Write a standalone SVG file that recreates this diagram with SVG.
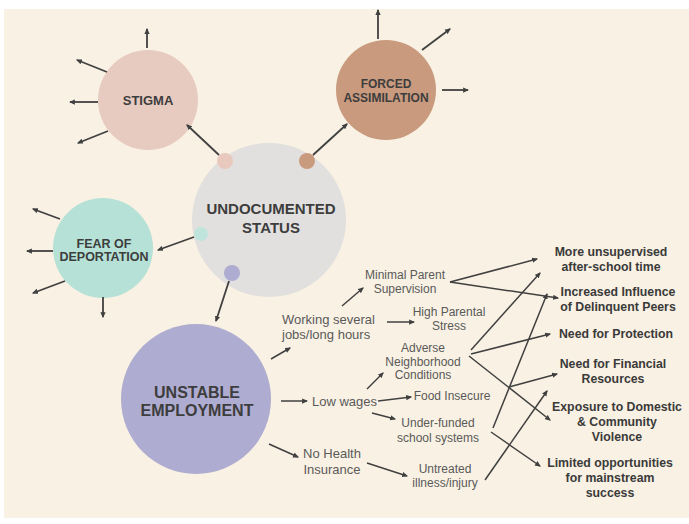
<svg xmlns="http://www.w3.org/2000/svg" width="689" height="524" viewBox="0 0 689 524">
  <style>
    .lbl { font-family: "Liberation Sans", Arial, sans-serif; font-weight: bold; fill: #3d3d3d; text-anchor: middle; }
    .mid { font-family: "Liberation Sans", Arial, sans-serif; fill: #5a5a5a; text-anchor: middle; font-size: 12px; }
    .mid13 { font-size: 13px; }
    .start { text-anchor: start; }
    .out { font-family: "Liberation Sans", Arial, sans-serif; font-weight: bold; fill: #3a3a3a; text-anchor: middle; font-size: 12.3px; }
    .arr { stroke: #404040; stroke-width: 1.8; fill: none; marker-end: url(#ah); }
    .thin { stroke: #404040; stroke-width: 1.5; fill: none; marker-end: url(#ah); }
  </style>
  <defs>
    <marker id="ah" viewBox="0 0 8 8" refX="6.5" refY="4" markerWidth="6" markerHeight="6" markerUnits="userSpaceOnUse" orient="auto">
      <path d="M0,0.5 L8,4 L0,7.5 z" fill="#404040"/>
    </marker>
  </defs>

  <rect x="0" y="0" width="689" height="524" fill="#ffffff"/>
  <rect x="4" y="9" width="685" height="509" fill="#f9f1e3"/>

  <!-- nodes -->
  <g id="stigma">
    <circle cx="148" cy="100" r="50" fill="#e8cbc0"/>
    <text class="lbl" x="148" y="104.5" font-size="13">STIGMA</text>
  </g>
  <g id="forced-assimilation">
    <circle cx="386" cy="90" r="50" fill="#c99a7e"/>
    <text class="lbl" x="386" y="87.5" font-size="12">FORCED</text>
    <text class="lbl" x="386" y="101.5" font-size="12">ASSIMILATION</text>
  </g>
  <g id="fear-of-deportation">
    <circle cx="103" cy="248" r="50" fill="#b5e1d7"/>
    <text class="lbl" x="104" y="247.5" font-size="12.5">FEAR OF</text>
    <text class="lbl" x="104" y="260.5" font-size="12.5">DEPORTATION</text>
  </g>
  <g id="undocumented-status">
    <circle cx="269" cy="220" r="77" fill="#e1e0df"/>
    <circle cx="225" cy="161" r="8" fill="#e9c9bd"/>
    <circle cx="307" cy="161" r="8" fill="#c99a7e"/>
    <circle cx="201" cy="234" r="7" fill="#bfe4db"/>
    <circle cx="232" cy="273" r="8" fill="#aeacd0"/>
    <text class="lbl" x="271" y="213.5" font-size="15">UNDOCUMENTED</text>
    <text class="lbl" x="271" y="232.5" font-size="15">STATUS</text>
  </g>
  <g id="unstable-employment">
    <circle cx="196" cy="399" r="75" fill="#aeacd0"/>
    <text class="lbl" x="197" y="398" font-size="16">UNSTABLE</text>
    <text class="lbl" x="197" y="416" font-size="16">EMPLOYMENT</text>
  </g>

  <!-- second level factors -->
  <g id="working-several-jobs">
    <text class="mid mid13 start" x="282" y="324">Working several</text>
    <text class="mid mid13 start" x="282" y="339">jobs/long hours</text>
  </g>
  <g id="low-wages">
    <text class="mid mid13 start" x="312" y="406">Low wages</text>
  </g>
  <g id="no-health-insurance">
    <text class="mid mid13" x="332" y="458">No Health</text>
    <text class="mid mid13" x="332" y="474">Insurance</text>
  </g>
  <g id="minimal-parent-supervision">
    <text class="mid" x="405" y="279">Minimal Parent</text>
    <text class="mid" x="405" y="293">Supervision</text>
  </g>
  <g id="high-parental-stress">
    <text class="mid" x="449" y="316" font-size="11.7">High Parental</text>
    <text class="mid" x="449" y="329.5" font-size="11.7">Stress</text>
  </g>
  <g id="adverse-neighborhood">
    <text class="mid" x="423" y="352">Adverse</text>
    <text class="mid" x="423" y="365.5">Neighborhood</text>
    <text class="mid" x="423" y="379">Conditions</text>
  </g>
  <g id="food-insecure">
    <text class="mid" x="452" y="400">Food Insecure</text>
  </g>
  <g id="under-funded-schools">
    <text class="mid" x="438" y="427">Under-funded</text>
    <text class="mid" x="438" y="442">school systems</text>
  </g>
  <g id="untreated-illness">
    <text class="mid" x="445" y="473">Untreated</text>
    <text class="mid" x="445" y="487">illness/injury</text>
  </g>

  <!-- outcomes -->
  <g id="more-unsupervised">
    <text class="out" x="611" y="255.5">More unsupervised</text>
    <text class="out" x="611" y="270.5">after-school time</text>
  </g>
  <g id="delinquent-peers">
    <text class="out" x="618" y="295.5">Increased Influence</text>
    <text class="out" x="618" y="310.5">of Delinquent Peers</text>
  </g>
  <g id="need-protection">
    <text class="out" x="616" y="337.5">Need for Protection</text>
  </g>
  <g id="need-financial">
    <text class="out" x="613" y="367.5">Need for Financial</text>
    <text class="out" x="613" y="382.5">Resources</text>
  </g>
  <g id="exposure-violence">
    <text class="out" x="617" y="410.5">Exposure to Domestic</text>
    <text class="out" x="617" y="426">&amp; Community</text>
    <text class="out" x="617" y="440.5">Violence</text>
  </g>
  <g id="limited-opportunities">
    <text class="out" x="610" y="466.5">Limited opportunities</text>
    <text class="out" x="610" y="482">for mainstream</text>
    <text class="out" x="610" y="496.5">success</text>
  </g>

  <!-- connectors, drawn over the circles -->
  <g id="connectors">
    <!-- radiating arrows: stigma -->
    <line class="arr" x1="147" y1="48" x2="147" y2="29"/>
    <line class="arr" x1="107" y1="72" x2="77" y2="60"/>
    <line class="arr" x1="98" y1="102" x2="70" y2="102"/>
    <line class="arr" x1="108" y1="131" x2="78" y2="143"/>
    <!-- radiating arrows: forced assimilation -->
    <line class="arr" x1="378" y1="39" x2="378" y2="10"/>
    <line class="arr" x1="422" y1="50" x2="450" y2="29"/>
    <line class="arr" x1="442" y1="90" x2="468" y2="90"/>
    <!-- radiating arrows: fear of deportation -->
    <line class="arr" x1="60" y1="219" x2="33" y2="209"/>
    <line class="arr" x1="53" y1="251" x2="27" y2="251"/>
    <line class="arr" x1="65" y1="281" x2="33" y2="293"/>
    <line class="arr" x1="103" y1="297" x2="103" y2="317"/>
    <!-- from undocumented status -->
    <line class="arr" x1="219" y1="155" x2="187" y2="125"/>
    <line class="arr" x1="313" y1="155" x2="347" y2="124"/>
    <line class="arr" x1="194" y1="237" x2="158" y2="250"/>
    <line class="arr" x1="229" y1="281" x2="216" y2="321"/>
    <!-- from unstable employment -->
    <line class="thin" x1="271" y1="359" x2="290" y2="348"/>
    <line class="thin" x1="281" y1="401" x2="307" y2="401"/>
    <line class="thin" x1="269" y1="444" x2="298" y2="457"/>
    <!-- second level -->
    <line class="thin" x1="342" y1="306" x2="363" y2="288"/>
    <line class="thin" x1="387" y1="322" x2="414" y2="322"/>
    <line class="thin" x1="367" y1="389" x2="383" y2="373"/>
    <line class="thin" x1="378" y1="401" x2="411" y2="397"/>
    <line class="thin" x1="372" y1="413" x2="395" y2="419"/>
    <line class="thin" x1="367" y1="463" x2="407" y2="476"/>
    <!-- outcomes -->
    <line class="thin" x1="450" y1="282" x2="537" y2="259"/>
    <line class="thin" x1="450" y1="282" x2="558" y2="298"/>
    <line class="thin" x1="471" y1="350" x2="540" y2="273"/>
    <line class="thin" x1="471" y1="354" x2="550" y2="334"/>
    <line class="thin" x1="469" y1="356" x2="550" y2="420"/>
    <line class="thin" x1="493" y1="428" x2="547" y2="294"/>
    <line class="thin" x1="509" y1="387" x2="557" y2="374"/>
    <line class="thin" x1="491" y1="432" x2="540" y2="466"/>
    <line class="thin" x1="485" y1="480" x2="547" y2="391"/>
  </g>
</svg>
